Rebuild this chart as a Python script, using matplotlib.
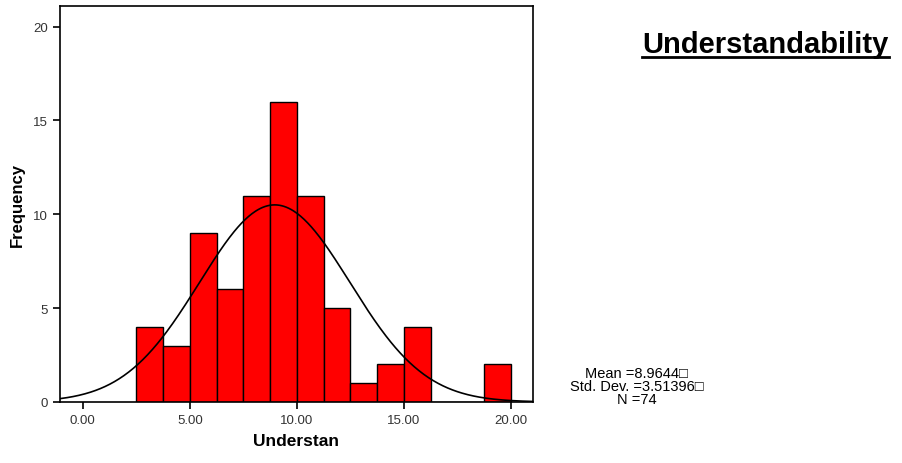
import matplotlib
matplotlib.use("Agg")
import matplotlib.pyplot as plt
from matplotlib.lines import Line2D
import numpy as np

plt.rcParams["font.family"] = ["Liberation Sans", "DejaVu Sans"]

# histogram data
bin_edges = [2.5, 3.75, 5.0, 6.25, 7.5, 8.75, 10.0, 11.25, 12.5, 13.75, 15.0, 16.25, 17.5, 18.75, 20.0]
counts = [4, 3, 9, 6, 11, 16, 11, 5, 1, 2, 4, 0, 0, 2]
mean = 8.9644
std_dev = 3.51396
n_obs = 74

x_ticks = [0, 5, 10, 15, 20]
x_tick_labels = ["0.00", "5.00", "10.00", "15.00", "20.00"]
y_ticks = [0, 5, 10, 15, 20]

fig = plt.figure(figsize=(9.03, 4.64), dpi=100)
ax = fig.add_axes([0.0664, 0.1315, 0.5238, 0.8535])

edges = np.array(bin_edges)
widths = np.diff(edges)
ax.bar(edges[:-1], counts, width=widths, align="edge", color="#ff0000",
       edgecolor="black", linewidth=1.0)

# fitted normal curve scaled to counts
xlim = (-1.07, 21.03)
xs = np.linspace(xlim[0], xlim[1], 400)
scale = n_obs * widths[0]
ys = scale / (std_dev * np.sqrt(2 * np.pi)) * np.exp(-0.5 * ((xs - mean) / std_dev) ** 2)
ax.plot(xs, ys, color="black", linewidth=1.2)

ax.set_xlim(*xlim)
ax.set_ylim(0, 21.1)
ax.set_xticks(x_ticks)
ax.set_xticklabels(x_tick_labels)
ax.set_yticks(y_ticks)
ax.tick_params(direction="out", length=5, width=1.2, labelsize=9.5,
               labelcolor="#333333", top=False, right=False)
for s in ax.spines.values():
    s.set_linewidth(1.2)

ax.set_xlabel("Understan", fontsize=12.5, fontweight="bold", labelpad=5)
ax.set_ylabel("Frequency", fontsize=12, fontweight="bold", labelpad=6)

# title with underline
title = fig.text(0.7115, 0.902, "Understandability", fontsize=21, fontweight="bold",
                 ha="left", va="center")
fig.canvas.draw()
bb = title.get_window_extent().transformed(fig.transFigure.inverted())
fig.add_artist(Line2D([bb.x0, bb.x1], [bb.y0 + 0.004, bb.y0 + 0.004],
                      transform=fig.transFigure, color="black", linewidth=2))

stats = f"Mean ={mean}\u25a1\nStd. Dev. ={std_dev}\u25a1\nN ={n_obs}"
fig.text(0.705, 0.166, stats, fontsize=10.5, ha="center", va="center",
         linespacing=0.92, family=["Liberation Sans", "DejaVu Sans"])

fig.savefig("out.png", dpi=100, facecolor="white")
